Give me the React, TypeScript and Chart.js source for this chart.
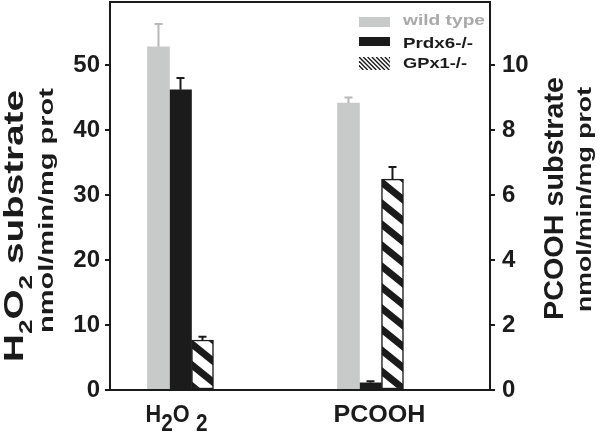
import React, { useEffect, useRef } from "react";
import { Chart, registerables } from "chart.js";

Chart.register(...registerables);

const categories = ["H2O2", "PCOOH"];
const seriesNames = ["wild type", "Prdx6-/-", "GPx1-/-"];
const h2o2Values = [52.8, 46.2, 7.7];
const h2o2Errors = [3.5, 1.8, 0.5];
const pcoohValues = [8.83, 0.22, 6.49];
const pcoohErrors = [0.17, 0.05, 0.37];
const leftTicks = [0, 10, 20, 30, 40, 50];
const rightTicks = [0, 2, 4, 6, 8, 10];
const leftMax = 59.7;
const rightMax = 11.94;
const leftTitle = ["H2O2 substrate", "nmol/min/mg prot"];
const rightTitle = ["PCOOH substrate", "nmol/min/mg prot"];

const FONT = '"Liberation Sans", Arial, Helvetica, sans-serif';
const INK = "#1b1b1b";
const GRAY = "#c8c9c9";
const ERR_GRAY = "#b8b8b8";
const LEGEND_GRAY = "#a9a9a9";

type Seg = { t: string; sub?: boolean; pre?: number };

function chemSegs(s: string): Seg[] {
  const out: Seg[] = [];
  for (let i = 0; i < s.length; i++) {
    const c = s[i];
    const isDigit = c >= "0" && c <= "9";
    const prev = i > 0 ? s[i - 1] : "";
    const sub = isDigit && /[A-Za-z]/.test(prev);
    const last = out[out.length - 1];
    if (last && !!last.sub === sub) last.t += c;
    else out.push({ t: c, sub });
  }
  return out;
}

function drawSegs(
  ctx: CanvasRenderingContext2D,
  segs: Seg[],
  x: number,
  y: number,
  o: { size: number; subSize?: number; subShift?: number; rot?: number; length?: number; align?: string; color: string }
) {
  ctx.save();
  ctx.translate(x, y);
  if (o.rot) ctx.rotate(o.rot);
  const widths = segs.map((s) => {
    ctx.font = `bold ${s.sub ? o.subSize || o.size : o.size}px ${FONT}`;
    return (s.pre || 0) + ctx.measureText(s.t).width;
  });
  const total = widths.reduce((a, b) => a + b, 0);
  const sx = o.length ? o.length / total : 1;
  ctx.scale(sx, 1);
  let cx = o.align === "center" ? -total / 2 : 0;
  ctx.fillStyle = o.color;
  ctx.textAlign = "left";
  ctx.textBaseline = "alphabetic";
  segs.forEach((s, i) => {
    ctx.font = `bold ${s.sub ? o.subSize || o.size : o.size}px ${FONT}`;
    ctx.fillText(s.t, cx + (s.pre || 0), s.sub ? o.subShift || 0 : 0);
    cx += widths[i];
  });
  ctx.restore();
}

export default function App() {
  const ref = useRef<HTMLCanvasElement | null>(null);

  useEffect(() => {
    const canvas = ref.current;
    if (!canvas) return;
    const ctx0 = canvas.getContext("2d")!;

    const pc = document.createElement("canvas");
    pc.width = 26;
    pc.height = 21;
    const p = pc.getContext("2d")!;
    p.fillStyle = "#ffffff";
    p.fillRect(0, 0, 26, 21);
    p.strokeStyle = INK;
    p.lineWidth = 7;
    for (let m = -1; m <= 1; m++) {
      p.beginPath();
      p.moveTo(-26, -21 + m * 21);
      p.lineTo(52, 42 + m * 21);
      p.stroke();
    }
    const hatch = ctx0.createPattern(pc, "repeat")!;

    const fills: any[] = [GRAY, INK, hatch];
    const errColors = [ERR_GRAY, INK, INK];

    const datasets: any[] = [];
    seriesNames.forEach((name, i) => {
      datasets.push({
        label: name,
        data: [
          { x: 0, y: h2o2Values[i] },
          { x: 1, y: null },
        ],
        errors: [h2o2Errors[i], null],
        errColor: errColors[i],
        yAxisID: "y",
        backgroundColor: fills[i],
        borderColor: INK,
        borderWidth: (c: any) => (i === 2 && c.raw && c.raw.y != null ? 1.5 : 0),
        borderSkipped: false,
      });
    });
    seriesNames.forEach((name, i) => {
      datasets.push({
        label: name,
        data: [
          { x: 0, y: null },
          { x: 1, y: pcoohValues[i] },
        ],
        errors: [null, pcoohErrors[i]],
        errColor: errColors[i],
        yAxisID: "y2",
        backgroundColor: fills[i],
        borderColor: INK,
        borderWidth: (c: any) => (i === 2 && c.raw && c.raw.y != null ? 1.5 : 0),
        borderSkipped: false,
      });
    });

    const decor = {
      id: "decor",
      afterDatasetsDraw(chart: any) {
        const ctx: CanvasRenderingContext2D = chart.ctx;
        chart.data.datasets.forEach((ds: any, di: number) => {
          const meta = chart.getDatasetMeta(di);
          const scale = chart.scales[ds.yAxisID];
          meta.data.forEach((bar: any, j: number) => {
            const v = ds.data[j].y;
            const e = ds.errors[j];
            if (v == null || e == null) return;
            const yTop = scale.getPixelForValue(v + e);
            ctx.save();
            ctx.strokeStyle = ds.errColor;
            ctx.lineWidth = 2;
            ctx.beginPath();
            ctx.moveTo(bar.x, bar.y);
            ctx.lineTo(bar.x, yTop);
            ctx.moveTo(bar.x - 4, yTop);
            ctx.lineTo(bar.x + 4, yTop);
            ctx.stroke();
            ctx.restore();
          });
        });
      },
      afterDraw(chart: any) {
        const ctx: CanvasRenderingContext2D = chart.ctx;
        const a = chart.chartArea;
        ctx.save();
        ctx.strokeStyle = INK;
        ctx.lineWidth = 2;
        ctx.strokeRect(a.left, a.top, a.right - a.left, a.bottom - a.top);
        ctx.restore();

        const xs = chart.scales.x;
        const s0 = chemSegs(categories[0]);
        if (s0.length > 3) s0[3].pre = 7;
        drawSegs(ctx, s0, xs.getPixelForValue(0) - 4, 422, {
          size: 24, subSize: 23, subShift: 9, align: "center", length: 62, color: INK,
        });
        drawSegs(ctx, chemSegs(categories[1]), xs.getPixelForValue(1) + 9, 422, {
          size: 24, align: "center", length: 92, color: INK,
        });

        const R = -Math.PI / 2;
        drawSegs(ctx, chemSegs(leftTitle[0]), 23, 226, {
          size: 28, subSize: 19, subShift: 9, rot: R, align: "center", length: 272, color: INK,
        });
        drawSegs(ctx, [{ t: leftTitle[1] }], 52.5, 210.5, {
          size: 20, rot: R, align: "center", length: 245, color: INK,
        });
        drawSegs(ctx, chemSegs(rightTitle[0]), 563, 198.5, {
          size: 28, rot: R, align: "center", length: 243, color: INK,
        });
        drawSegs(ctx, [{ t: rightTitle[1] }], 591, 199.5, {
          size: 19.5, rot: R, align: "center", length: 225, color: INK,
        });

        const lx = a.right - 131;
        const tx = a.right - 87;
        ctx.save();
        ctx.fillStyle = GRAY;
        ctx.fillRect(lx, 17, 31, 10);
        ctx.fillStyle = INK;
        ctx.fillRect(lx, 37, 31, 9);
        ctx.beginPath();
        ctx.rect(lx, 57, 31, 13);
        ctx.clip();
        ctx.strokeStyle = INK;
        ctx.lineWidth = 1.4;
        for (let k = -4; k < 9; k++) {
          ctx.beginPath();
          ctx.moveTo(lx + k * 4.3, 57);
          ctx.lineTo(lx + k * 4.3 + 13, 70);
          ctx.stroke();
        }
        ctx.restore();
        const lens = [82, 70, 64];
        const bases = [25, 48, 68];
        const cols = [LEGEND_GRAY, INK, INK];
        seriesNames.forEach((n, i) => {
          drawSegs(ctx, [{ t: n }], tx, bases[i], { size: 15.5, length: lens[i], color: cols[i] });
        });
      },
    };

    const fitY = (s: any) => {
      s.width = 110;
      s.paddingTop = 0;
      s.paddingBottom = 0;
    };

    const chart = new Chart(canvas, {
      type: "bar",
      data: { datasets },
      options: {
        responsive: false,
        animation: false,
        events: [],
        layout: { padding: { top: 2, left: 0, right: 0, bottom: 0 } },
        datasets: { bar: { barThickness: 22, skipNull: true, grouped: true } } as any,
        plugins: { legend: { display: false }, tooltip: { enabled: false } },
        scales: {
          x: {
            type: "linear",
            min: -0.371,
            max: 1.629,
            offset: false,
            ticks: { display: false },
            grid: { display: false },
            border: { display: false },
            afterFit: (s: any) => {
              s.height = 42;
              s.paddingLeft = 0;
              s.paddingRight = 0;
            },
          },
          y: {
            type: "linear",
            position: "left",
            min: 0,
            max: leftMax,
            afterBuildTicks: (s: any) => {
              s.ticks = leftTicks.map((v) => ({ value: v }));
            },
            afterFit: fitY,
            ticks: {
              font: { family: FONT, size: 24, weight: "bold" },
              color: INK,
              padding: 5,
            },
            grid: { drawOnChartArea: false, drawTicks: true, tickLength: 5, lineWidth: 2, color: INK },
            border: { display: false },
          },
          y2: {
            type: "linear",
            position: "right",
            min: 0,
            max: rightMax,
            afterBuildTicks: (s: any) => {
              s.ticks = rightTicks.map((v) => ({ value: v }));
            },
            afterFit: fitY,
            ticks: {
              font: { family: FONT, size: 24, weight: "bold" },
              color: INK,
              padding: 7,
            },
            grid: { drawOnChartArea: false, drawTicks: true, tickLength: 5, lineWidth: 2, color: INK },
            border: { display: false },
          },
        },
      } as any,
      plugins: [decor],
    });

    return () => chart.destroy();
  }, []);

  return (
    <div style={{ position: "fixed", left: 0, top: 0, width: 600, height: 432, background: "#ffffff" }}>
      <canvas ref={ref} width={600} height={432} style={{ display: "block" }} />
    </div>
  );
}
